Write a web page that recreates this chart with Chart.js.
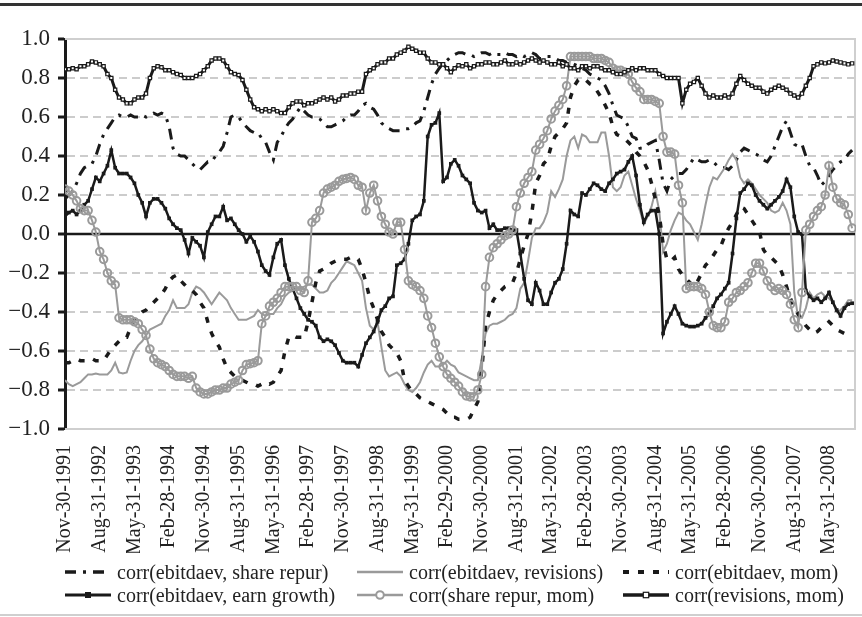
<!DOCTYPE html>
<html>
<head>
<meta charset="utf-8">
<script src="https://cdn.jsdelivr.net/npm/chart.js@4.4.1/dist/chart.umd.min.js"></script>
<style>
  html, body { margin: 0; padding: 0; background: #fff; }
  #wrap { position: relative; width: 862px; height: 617px; overflow: hidden;
          font-family: "Liberation Serif", "DejaVu Serif", serif; color: #222; }
  #chart { position: absolute; left: 0; top: 0; }
  #topRule { position: absolute; left: 0; top: 3px; width: 862px; height: 3px; background: #333; }
  #bottomRule { position: absolute; left: 0; top: 614px; width: 862px; height: 2px; background: #cfcfcf; }
  .leg { position: absolute; height: 22px; display: flex; align-items: center;
         font-size: 20px; line-height: 22px; white-space: nowrap; }
  .leg svg { flex: none; }
  .leg span { margin-left: 6px; }
</style>
</head>
<body>
<div id="wrap">
  <div id="topRule"></div>
  <canvas id="chart" width="862" height="617"></canvas>
  <div id="legend"></div>
  <div id="bottomRule"></div>
</div>
<script>
// Month-end tick labels, one every nine months from Nov-1991
const tickLabels = [
  'Nov-30-1991', 'Aug-31-1992', 'May-31-1993', 'Feb-28-1994', 'Nov-30-1994',
  'Aug-31-1995', 'May-31-1996', 'Feb-28-1997', 'Nov-30-1997', 'Aug-31-1998',
  'May-31-1999', 'Feb-29-2000', 'Nov-30-2000', 'Aug-31-2001', 'May-31-2002',
  'Feb-28-2003', 'Nov-30-2003', 'Aug-31-2004', 'May-31-2005', 'Feb-28-2006',
  'Nov-30-2006', 'Aug-31-2007', 'May-31-2008'
];
const monthsPerTick = 9;

const seriesNames = [
  'corr(ebitdaev, share repur)',
  'corr(ebitdaev, revisions)',
  'corr(ebitdaev, mom)',
  'corr(ebitdaev, earn growth)',
  'corr(share repur, mom)',
  'corr(revisions, mom)'
];

// Rolling monthly correlations, Nov-1991 onwards
const ebitdaevShareRepur = [
  0.18, 0.20, 0.22, 0.26, 0.31, 0.34, 0.35, 0.36, 0.40, 0.46,
  0.51, 0.54, 0.57, 0.60, 0.61, 0.60, 0.60, 0.61, 0.60, 0.60,
  0.61, 0.60, 0.61, 0.62, 0.61, 0.62, 0.61, 0.55, 0.44, 0.41,
  0.40, 0.40, 0.38, 0.36, 0.34, 0.33, 0.35, 0.37, 0.37, 0.40,
  0.42, 0.45, 0.52, 0.60, 0.61, 0.60, 0.57, 0.55, 0.53, 0.52,
  0.52, 0.49, 0.47, 0.42, 0.38, 0.47, 0.50, 0.54, 0.57, 0.59,
  0.62, 0.65, 0.63, 0.61, 0.60, 0.60, 0.59, 0.57, 0.55, 0.55,
  0.56, 0.57, 0.58, 0.60, 0.61, 0.61, 0.63, 0.66, 0.67, 0.65,
  0.64, 0.61, 0.57, 0.55, 0.54, 0.53, 0.53, 0.53, 0.54, 0.54,
  0.55, 0.57, 0.58, 0.63, 0.70, 0.77, 0.82, 0.85, 0.875, 0.89,
  0.91, 0.92, 0.93, 0.93, 0.92, 0.92, 0.91, 0.92, 0.93, 0.93,
  0.92, 0.93, 0.92, 0.92, 0.93, 0.92, 0.92, 0.91, 0.92, 0.91,
  0.92, 0.93, 0.92, 0.90, 0.90, 0.91, 0.91, 0.90, 0.89, 0.89,
  0.88, 0.88, 0.87, 0.86, 0.85, 0.84, 0.82, 0.81, 0.80, 0.79,
  0.76, 0.72, 0.66, 0.61, 0.60, 0.59, 0.55, 0.50, 0.49, 0.44,
  0.44, 0.46, 0.47, 0.48, 0.38, 0.26, 0.22, 0.28, 0.30, 0.31,
  0.31, 0.33, 0.36, 0.39, 0.38, 0.37, 0.37, 0.38, 0.37, 0.35,
  0.34, 0.34, 0.33, 0.35, 0.38, 0.42, 0.44, 0.43, 0.42, 0.41,
  0.40, 0.38, 0.37, 0.40, 0.45, 0.50, 0.55, 0.58, 0.52, 0.46,
  0.45, 0.46, 0.40, 0.35, 0.34, 0.30, 0.25, 0.27, 0.30, 0.33,
  0.35, 0.37, 0.38, 0.41, 0.43
];

const ebitdaevRevisions = [
  -0.75, -0.77, -0.78, -0.77, -0.76, -0.74, -0.72, -0.72, -0.715, -0.72,
  -0.72, -0.72, -0.70, -0.66, -0.71, -0.715, -0.71, -0.65, -0.60, -0.57,
  -0.55, -0.52, -0.49, -0.48, -0.47, -0.46, -0.42, -0.39, -0.34, -0.38,
  -0.38, -0.38, -0.36, -0.30, -0.27, -0.28, -0.30, -0.33, -0.36, -0.33,
  -0.30, -0.32, -0.34, -0.38, -0.41, -0.44, -0.44, -0.44, -0.43, -0.42,
  -0.39, -0.41, -0.42, -0.41, -0.41, -0.38, -0.36, -0.32, -0.30, -0.29,
  -0.28, -0.28, -0.27, -0.26, -0.26, -0.28, -0.30, -0.30, -0.29, -0.25,
  -0.23, -0.20, -0.17, -0.14, -0.15, -0.16, -0.20, -0.24, -0.38, -0.47,
  -0.49, -0.45, -0.58, -0.70, -0.73, -0.72, -0.71, -0.73, -0.77, -0.80,
  -0.81, -0.79, -0.76, -0.71, -0.67, -0.65, -0.68, -0.68, -0.67, -0.65,
  -0.67, -0.68, -0.71, -0.72, -0.73, -0.74, -0.75, -0.75, -0.64, -0.51,
  -0.47, -0.46, -0.46, -0.45, -0.44, -0.42, -0.41, -0.38, -0.28, -0.25,
  -0.14, -0.02, 0.03, 0.03, 0.06, 0.11, 0.22, 0.19, 0.23, 0.28,
  0.40, 0.48, 0.50, 0.44, 0.51, 0.50, 0.47, 0.47, 0.47, 0.52,
  0.52, 0.40, 0.24, 0.22, 0.24, 0.30, 0.32, 0.25, 0.18, 0.12,
  0.05, 0.09, 0.14, 0.22, 0.12, -0.09, -0.05, 0.02, 0.07, 0.11,
  0.10, 0.07, 0.05, 0.01, -0.03, 0.05, 0.15, 0.24, 0.29, 0.28,
  0.31, 0.34, 0.38, 0.41, 0.38, 0.29, 0.26, 0.28, 0.26, 0.23,
  0.20, 0.18, 0.16, 0.12, 0.11, 0.12, 0.16, 0.12, 0.05, -0.30,
  -0.43, -0.43, -0.38, -0.30, -0.33, -0.31, -0.30, -0.32, -0.33, -0.35,
  -0.40, -0.39, -0.37, -0.34, -0.34
];

const ebitdaevMom = [
  -0.66, -0.66, -0.65, -0.64, -0.65, -0.65, -0.65, -0.64, -0.65, -0.65,
  -0.65, -0.62, -0.59, -0.57, -0.55, -0.53, -0.53, -0.48, -0.44, -0.42,
  -0.40, -0.39, -0.37, -0.35, -0.33, -0.31, -0.28, -0.24, -0.22, -0.21,
  -0.24, -0.26, -0.28, -0.29, -0.31, -0.35, -0.38, -0.45, -0.51, -0.55,
  -0.58, -0.64, -0.69, -0.71, -0.73, -0.74, -0.75, -0.76, -0.77, -0.77,
  -0.78, -0.77, -0.76, -0.77, -0.76, -0.73, -0.70, -0.60, -0.53, -0.52,
  -0.53, -0.53, -0.53, -0.45, -0.35, -0.25, -0.19, -0.18, -0.17, -0.15,
  -0.14, -0.13, -0.13, -0.13, -0.12, -0.12, -0.13, -0.18, -0.25, -0.33,
  -0.38, -0.44, -0.50, -0.53, -0.57, -0.59, -0.61, -0.65, -0.75, -0.78,
  -0.81, -0.82, -0.84, -0.85, -0.86, -0.87, -0.88, -0.89, -0.90, -0.92,
  -0.94, -0.94, -0.95, -0.95, -0.95, -0.94, -0.90, -0.86, -0.70, -0.47,
  -0.40, -0.34, -0.31, -0.29, -0.27, -0.26, -0.25, -0.20, -0.13, -0.06,
  0.00, 0.11, 0.26, 0.30, 0.36, 0.38, 0.45, 0.50, 0.52, 0.54,
  0.57, 0.70, 0.76, 0.79, 0.80, 0.79, 0.77, 0.76, 0.73, 0.70,
  0.66, 0.62, 0.55, 0.51, 0.50, 0.49, 0.47, 0.45, 0.42, 0.40,
  0.37, 0.33, 0.26, 0.18, 0.10, -0.05, -0.13, -0.14, -0.12, -0.18,
  -0.21, -0.23, -0.25, -0.27, -0.24, -0.20, -0.16, -0.14, -0.11, -0.08,
  -0.06, -0.01, 0.03, 0.06, 0.10, 0.14, 0.13, 0.10, 0.07, 0.04,
  0.01, -0.08, -0.11, -0.12, -0.14, -0.16, -0.21, -0.27, -0.33, -0.38,
  -0.41, -0.44, -0.47, -0.49, -0.51, -0.50, -0.48, -0.47, -0.45, -0.47,
  -0.49, -0.50, -0.51, -0.50, -0.49
];

const ebitdaevEarnGrowth = [
  0.09, 0.11, 0.12, 0.10, 0.12, 0.15, 0.17, 0.23, 0.29, 0.27,
  0.31, 0.35, 0.43, 0.34, 0.31, 0.31, 0.31, 0.29, 0.26, 0.20,
  0.16, 0.09, 0.16, 0.18, 0.18, 0.16, 0.13, 0.08, 0.05, 0.03,
  0.02, -0.03, -0.10, -0.02, -0.04, -0.06, -0.12, 0.01, 0.05, 0.09,
  0.09, 0.14, 0.07, 0.08, 0.05, 0.02, 0.00, -0.04, -0.01, -0.04,
  -0.09, -0.16, -0.19, -0.21, -0.12, -0.05, -0.03, -0.16, -0.23, -0.28,
  -0.33, -0.38, -0.41, -0.44, -0.45, -0.47, -0.53, -0.55, -0.54, -0.55,
  -0.57, -0.61, -0.65, -0.66, -0.66, -0.66, -0.68, -0.62, -0.56, -0.53,
  -0.50, -0.45, -0.39, -0.37, -0.33, -0.32, -0.16, -0.15, -0.13, -0.05,
  0.07, 0.09, 0.10, 0.17, 0.50, 0.56, 0.57, 0.62, 0.27, 0.29,
  0.36, 0.38, 0.35, 0.30, 0.28, 0.26, 0.16, 0.12, 0.11, 0.12,
  0.03, 0.05, 0.02, 0.02, 0.03, 0.03, 0.02, 0.02, -0.10, -0.23,
  -0.34, -0.36, -0.25, -0.29, -0.36, -0.36, -0.30, -0.25, -0.23, -0.18,
  -0.05, 0.12, 0.10, 0.09, 0.21, 0.20, 0.23, 0.26, 0.25, 0.23,
  0.22, 0.26, 0.28, 0.31, 0.32, 0.33, 0.37, 0.40, 0.30, 0.15,
  0.06, 0.10, 0.12, 0.12, 0.00, -0.51, -0.45, -0.41, -0.37, -0.41,
  -0.46, -0.47, -0.475, -0.475, -0.47, -0.46, -0.43, -0.41, -0.37, -0.33,
  -0.31, -0.28, -0.25, -0.10, 0.08, 0.21, 0.23, 0.26, 0.25, 0.20,
  0.17, 0.15, 0.13, 0.15, 0.17, 0.19, 0.22, 0.28, 0.24, 0.09,
  0.01, 0.00, -0.29, -0.32, -0.34, -0.33, -0.35, -0.33, -0.30, -0.35,
  -0.39, -0.42, -0.38, -0.36, -0.355
];

const shareRepurMom = [
  0.23, 0.22, 0.20, 0.17, 0.13, 0.12, 0.12, 0.07, 0.01, -0.09,
  -0.13, -0.20, -0.24, -0.26, -0.43, -0.44, -0.44, -0.44, -0.45, -0.46,
  -0.49, -0.52, -0.59, -0.64, -0.66, -0.67, -0.68, -0.70, -0.72, -0.73,
  -0.73, -0.73, -0.74, -0.73, -0.79, -0.81, -0.82, -0.82, -0.81, -0.80,
  -0.80, -0.79, -0.79, -0.77, -0.76, -0.75, -0.70, -0.67, -0.665, -0.66,
  -0.65, -0.46, -0.42, -0.37, -0.35, -0.33, -0.30, -0.27, -0.27, -0.27,
  -0.27, -0.29, -0.30, -0.24, 0.06, 0.08, 0.12, 0.21, 0.23, 0.24,
  0.25, 0.27, 0.28, 0.285, 0.29, 0.28, 0.25, 0.24, 0.12, 0.21,
  0.25, 0.17, 0.09, 0.05, 0.01, 0.00, 0.06, 0.06, -0.08, -0.24,
  -0.26, -0.27, -0.29, -0.33, -0.42, -0.48, -0.56, -0.63, -0.68, -0.72,
  -0.74, -0.76, -0.78, -0.81, -0.83, -0.835, -0.835, -0.80, -0.72, -0.27,
  -0.12, -0.07, -0.05, -0.03, -0.01, 0.00, 0.02, 0.14, 0.21, 0.26,
  0.29, 0.32, 0.43, 0.46, 0.49, 0.53, 0.59, 0.63, 0.66, 0.69,
  0.76, 0.91, 0.91, 0.91, 0.91, 0.91, 0.91, 0.90, 0.90, 0.90,
  0.89, 0.88, 0.85, 0.84, 0.84, 0.83, 0.82, 0.78, 0.75, 0.73,
  0.69, 0.69, 0.69, 0.68, 0.67, 0.50, 0.42, 0.42, 0.41, 0.25,
  0.16, -0.28, -0.27, -0.27, -0.27, -0.28, -0.31, -0.40, -0.47, -0.48,
  -0.48, -0.45, -0.35, -0.33, -0.30, -0.29, -0.27, -0.25, -0.20, -0.15,
  -0.15, -0.19, -0.24, -0.27, -0.29, -0.28, -0.29, -0.31, -0.36, -0.44,
  -0.48, -0.30, 0.02, 0.05, 0.09, 0.12, 0.14, 0.20, 0.35, 0.24,
  0.18, 0.16, 0.15, 0.10, 0.03
];

const revisionsMom = [
  0.845, 0.845, 0.85, 0.845, 0.86, 0.86, 0.87, 0.885, 0.88, 0.87,
  0.86, 0.82, 0.80, 0.74, 0.70, 0.69, 0.67, 0.67, 0.69, 0.70,
  0.70, 0.72, 0.80, 0.85, 0.86, 0.855, 0.84, 0.84, 0.83, 0.82,
  0.815, 0.80, 0.80, 0.80, 0.81, 0.82, 0.84, 0.86, 0.89, 0.90,
  0.90, 0.89, 0.86, 0.83, 0.82, 0.815, 0.79, 0.74, 0.69, 0.65,
  0.64, 0.63, 0.64, 0.63, 0.64, 0.63, 0.62, 0.62, 0.65, 0.67,
  0.68, 0.68, 0.66, 0.67, 0.67, 0.68, 0.69, 0.70, 0.69, 0.70,
  0.68, 0.69, 0.71, 0.71, 0.72, 0.72, 0.73, 0.73, 0.82, 0.84,
  0.85, 0.87, 0.88, 0.88, 0.90, 0.90, 0.92, 0.93, 0.94, 0.96,
  0.95, 0.94, 0.93, 0.93, 0.90, 0.88, 0.88, 0.87, 0.87, 0.85,
  0.83, 0.85, 0.865, 0.86, 0.87, 0.85, 0.86, 0.87, 0.87, 0.88,
  0.88, 0.87, 0.87, 0.88, 0.89, 0.87, 0.87, 0.88, 0.87, 0.88,
  0.89, 0.90, 0.89, 0.88, 0.89, 0.88, 0.87, 0.87, 0.88, 0.86,
  0.87, 0.85, 0.85, 0.84, 0.86, 0.86, 0.85, 0.86, 0.86, 0.85,
  0.84, 0.84, 0.83, 0.82, 0.82, 0.83, 0.84, 0.85, 0.84, 0.85,
  0.85, 0.84, 0.84, 0.84, 0.82, 0.81, 0.80, 0.80, 0.80, 0.80,
  0.67, 0.74, 0.77, 0.78, 0.80, 0.76, 0.72, 0.70, 0.71, 0.70,
  0.70, 0.71, 0.70, 0.72, 0.77, 0.81, 0.79, 0.77, 0.76, 0.75,
  0.75, 0.73, 0.72, 0.74, 0.75, 0.76, 0.75, 0.74, 0.72, 0.71,
  0.70, 0.72, 0.76, 0.80, 0.86, 0.87, 0.88, 0.875, 0.88, 0.89,
  0.885, 0.88, 0.875, 0.87, 0.875
];

const INK = '#1a1a1a';
const GREY = '#9a9a9a';
const FONT = '"Liberation Serif", "DejaVu Serif", serif';

const toPoints = arr => arr.map((v, i) => ({ x: i, y: v }));

// Line styles, in legend order
const styles = [
  { color: INK, width: 3, dash: [11, 7, 3, 7] },
  { color: GREY, width: 2, dash: [] },
  { color: INK, width: 3.5, dash: [6, 9] },
  { color: INK, width: 2.5, dash: [], marker: 'rect', r: 2.6, fill: INK, mw: 0 },
  { color: GREY, width: 2, dash: [], marker: 'circle', r: 3.8, fill: 'rgba(255,255,255,0)', mw: 2 },
  { color: INK, width: 3, dash: [], marker: 'rect', r: 2.3, fill: '#ffffff', mw: 1.2 }
];
const seriesData = [ebitdaevShareRepur, ebitdaevRevisions, ebitdaevMom,
                    ebitdaevEarnGrowth, shareRepurMom, revisionsMom];

const datasets = seriesData.map((arr, k) => {
  const s = styles[k];
  return {
    label: seriesNames[k],
    data: toPoints(arr),
    borderColor: s.color,
    borderWidth: s.width,
    borderDash: s.dash,
    borderCapStyle: 'butt',
    borderJoinStyle: 'miter',
    tension: 0,
    fill: false,
    pointStyle: s.marker || 'circle',
    pointRadius: s.marker ? s.r : 0,
    pointBackgroundColor: s.fill || s.color,
    pointBorderColor: s.color,
    pointBorderWidth: s.mw || 0,
    order: seriesData.length - k
  };
});

// Plot frame (1.0 / -1.0 rules and right edge) and the zero axis
const framePlugin = {
  id: 'frame',
  beforeDatasetsDraw(chart) {
    const { ctx, chartArea: a, scales: { y } } = chart;
    const top = y.getPixelForValue(1);
    const bottom = y.getPixelForValue(-1);
    const zero = y.getPixelForValue(0);
    ctx.save();
    ctx.strokeStyle = '#cfcfcf';
    ctx.lineWidth = 2;
    ctx.beginPath();
    ctx.moveTo(a.left, top);
    ctx.lineTo(a.right - 1, top);
    ctx.lineTo(a.right - 1, bottom);
    ctx.lineTo(a.left, bottom);
    ctx.stroke();
    ctx.strokeStyle = INK;
    ctx.lineWidth = 2.5;
    ctx.beginPath();
    ctx.moveTo(a.left, zero);
    ctx.lineTo(a.right - 1, zero);
    ctx.stroke();
    ctx.restore();
  }
};

new Chart(document.getElementById('chart'), {
  type: 'line',
  data: { datasets },
  plugins: [framePlugin],
  options: {
    responsive: false,
    animation: false,
    devicePixelRatio: 1,
    layout: { padding: { left: 0, right: 2, top: 39, bottom: 64 } },
    plugins: { legend: { display: false }, tooltip: { enabled: false } },
    scales: {
      x: {
        type: 'linear',
        min: 0,
        max: 205,
        afterBuildTicks: s => { s.ticks = tickLabels.map((_, k) => ({ value: k * monthsPerTick })); },
        afterFit: s => { s.height = 124; },
        ticks: {
          callback: v => tickLabels[Math.round(v / monthsPerTick)],
          autoSkip: false,
          minRotation: 90,
          maxRotation: 90,
          padding: 8,
          color: '#222',
          font: { family: FONT, size: 20 }
        },
        grid: { display: false },
        border: { display: false }
      },
      y: {
        min: -1,
        max: 1,
        afterFit: s => { s.width = 65; },
        ticks: {
          stepSize: 0.2,
          padding: 8,
          color: '#222',
          font: { family: FONT, size: 23 },
          callback: v => Math.abs(v) < 1e-9 ? '0.0' : v.toFixed(1).replace('-', '\u2212')
        },
        grid: {
          color: c => (Math.abs(c.tick.value) < 1e-9 || Math.abs(Math.abs(c.tick.value) - 1) < 1e-9) ? 'rgba(0,0,0,0)' : '#cccccc',
          lineWidth: 2,
          drawTicks: true,
          tickLength: 7,
          tickWidth: 3,
          tickColor: INK
        },
        border: { display: true, color: INK, width: 3, dash: [8, 5] }
      }
    }
  }
});

// Legend: three columns, two rows
const legendCols = [65, 357, 623];
const legendRows = [561, 584];
const legendEl = document.getElementById('legend');
function sampleSvg(k) {
  const s = styles[k];
  const w = 46, h = 12, m = h / 2;
  let svg = `<svg width="${w}" height="${h}" viewBox="0 0 ${w} ${h}">`;
  svg += `<line x1="0" y1="${m}" x2="${w}" y2="${m}" stroke="${s.color}" stroke-width="${s.width + 0.5}"` +
         (s.dash.length ? ` stroke-dasharray="${s.dash.join(' ')}"` : '') + `/>`;
  if (s.marker === 'rect') {
    const r = s.r + 0.4;
    svg += `<rect x="${w / 2 - r}" y="${m - r}" width="${2 * r}" height="${2 * r}" fill="${s.fill}" stroke="${s.color}" stroke-width="${s.mw}"/>`;
  } else if (s.marker === 'circle') {
    svg += `<circle cx="${w / 2}" cy="${m}" r="${s.r}" fill="#fff" stroke="${s.color}" stroke-width="${s.mw}"/>`;
  }
  return svg + '</svg>';
}
seriesNames.forEach((name, k) => {
  const item = document.createElement('div');
  item.className = 'leg';
  item.style.left = legendCols[k % 3] + 'px';
  item.style.top = legendRows[Math.floor(k / 3)] + 'px';
  item.innerHTML = sampleSvg(k) + `<span>${name}</span>`;
  legendEl.appendChild(item);
});
</script>
</body>
</html>
